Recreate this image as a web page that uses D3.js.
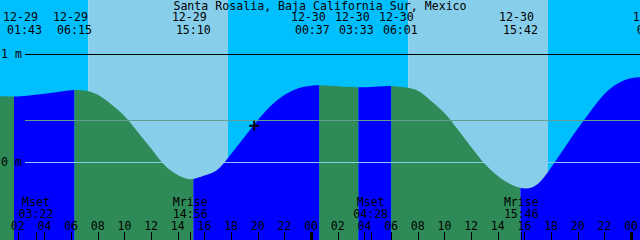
<!DOCTYPE html>
<html>
<head>
<meta charset="utf-8">
<script src="https://cdn.jsdelivr.net/npm/d3@7"></script>
<style>
  body { margin: 0; background: #fff; }
  svg { display: block; }
  text { font-family: "DejaVu Sans Mono", monospace; font-size: 11.6px; fill: #000; }
</style>
</head>
<body>
<svg id="chart" width="640" height="240"></svg>
<script>
const title = 'Santa Rosalia, Baja California Sur, Mexico';
const viewStart = '12-29 00:40';
const viewEnd = '12-31 00:40';

// tide height (m) at each full hour, starting 12-29 00:00
const hourlyHeights = [
  0.613, 0.608, 0.606, 0.617, 0.631, 0.648, 0.665, 0.662, 0.622, 0.534,
  0.426, 0.278, 0.125, -0.028, -0.120, -0.159, -0.125, -0.069, 0.074, 0.231,
  0.387, 0.523, 0.620, 0.681, 0.706, 0.709, 0.702, 0.694, 0.693, 0.699,
  0.704, 0.692, 0.659, 0.565, 0.454, 0.301, 0.139, -0.014, -0.130, -0.208,
  -0.245, -0.204, -0.051, 0.130, 0.310, 0.477, 0.630, 0.727, 0.775, 0.787,
];

const tideTimes = ['12-29 01:43', '12-29 06:15', '12-29 15:10', '12-30 00:37',
  '12-30 03:33', '12-30 06:01', '12-30 15:42', '12-31 01:44'];
const tideTypes = ['low', 'high', 'low', 'high', 'low', 'high', 'low', 'high'];

const sunTimes = ['12-29 07:17', '12-29 17:46', '12-30 07:17', '12-30 17:46'];
const sunTypes = ['rise', 'set', 'rise', 'set'];

const moonTimes = ['12-29 03:22', '12-29 14:56', '12-30 04:28', '12-30 15:46'];
const moonLabels = ['Mset', 'Mrise', 'Mset', 'Mrise'];

const levelValues = [1, 0];
const levelLabels = ['1 m', '0 m'];
const meanLevel = 0.39;

const nowTime = '12-29 19:44';
const nowHeight = 0.336;

const colors = {
  day: '#87ceeb',
  night: '#00bfff',
  flood: '#0000ff',
  ebb: '#2e8b57',
  datum: '#87ceeb',
  msl: '#5f9f8f',
};

const W = 640;
const H = 240;

// hours since 12-29 00:00
function hours(s) {
  const [md, hm] = s.split(' ');
  const day = +md.split('-')[1];
  const [h, m] = hm.split(':').map(Number);
  return (day - 29) * 24 + h + m / 60;
}

const t0 = hours(viewStart);
const t1 = hours(viewEnd);
const x = d3.scaleLinear().domain([t0, t1]).range([0, W]);
const y = d3.scaleLinear().domain([0, 1]).range([162, 54]);

const svg = d3.select('#chart');

// intervals between boundary times, clipped to the view
function intervals(times) {
  const b = [t0, ...times.map(hours).filter((t) => t > t0 && t < t1), t1];
  return d3.pairs(b);
}

// sky: day / night
const sunT = sunTimes.map(hours);
const sky = intervals(sunTimes).map(([a, b]) => {
  const next = sunT.findIndex((t) => t >= b - 1e-9);
  const isDay = next >= 0 ? sunTypes[next] === 'set' : sunTypes[sunTypes.length - 1] === 'rise';
  return { a, b, fill: isDay ? colors.day : colors.night };
});
svg.append('g')
  .selectAll('rect')
  .data(sky)
  .join('rect')
  .attr('x', (d) => x(d.a))
  .attr('y', 0)
  .attr('width', (d) => x(d.b) - x(d.a))
  .attr('height', H)
  .attr('fill', (d) => d.fill);

// water under the curve, flood / ebb
const series = hourlyHeights.map((v, i) => ({ t: i, v }));
const area = d3.area()
  .x((d) => x(d.t))
  .y0(H)
  .y1((d) => y(d.v))
  .curve(d3.curveNatural);

svg.append('clipPath')
  .attr('id', 'water')
  .append('path')
  .attr('d', area(series));

const tideT = tideTimes.map(hours);
const water = intervals(tideTimes).map(([a, b]) => {
  const next = tideT.findIndex((t) => t >= b - 1e-9);
  return { a, b, fill: tideTypes[next] === 'low' ? colors.ebb : colors.flood };
});
svg.append('g')
  .attr('clip-path', 'url(#water)')
  .selectAll('rect')
  .data(water)
  .join('rect')
  .attr('x', (d) => x(d.a))
  .attr('y', 0)
  .attr('width', (d) => x(d.b) - x(d.a))
  .attr('height', H)
  .attr('fill', (d) => d.fill);

// level lines
const lines = [
  { v: 1, stroke: '#000' },
  { v: meanLevel, stroke: colors.msl },
  { v: 0, stroke: colors.datum },
];
svg.append('g')
  .selectAll('line')
  .data(lines)
  .join('line')
  .attr('x1', 25)
  .attr('x2', W)
  .attr('y1', (d) => Math.round(y(d.v)) + 0.5)
  .attr('y2', (d) => Math.round(y(d.v)) + 0.5)
  .attr('stroke', (d) => d.stroke)
  .attr('stroke-width', 1);

svg.append('g')
  .selectAll('text')
  .data(levelValues)
  .join('text')
  .attr('x', 1)
  .attr('y', (d) => y(d) + 4)
  .text((d, i) => levelLabels[i]);

// title
svg.append('text')
  .attr('x', W / 2)
  .attr('y', 10)
  .attr('text-anchor', 'middle')
  .text(title);

// tide event labels, pushed apart where they crowd
function spread(xs, gap) {
  let groups = xs.map((v, i) => ({ idx: [i], mean: v }));
  const pos = (g) => g.idx.map((_, k) => g.mean + (k - (g.idx.length - 1) / 2) * gap);
  let merged = true;
  while (merged) {
    merged = false;
    for (let i = 0; i < groups.length - 1; i += 1) {
      if (d3.max(pos(groups[i])) + gap > d3.min(pos(groups[i + 1]))) {
        const idx = groups[i].idx.concat(groups[i + 1].idx);
        groups.splice(i, 2, { idx, mean: d3.mean(idx, (j) => xs[j]) });
        merged = true;
        break;
      }
    }
  }
  const out = [];
  groups.forEach((g) => pos(g).forEach((p, k) => { out[g.idx[k]] = p; }));
  return out;
}

const labelX = spread(tideT.map(x), 44).map((p) => Math.max(p, 24.5));
const gTop = svg.append('g');
gTop.selectAll('text.date')
  .data(tideTimes)
  .join('text')
  .attr('class', 'date')
  .attr('x', (d, i) => labelX[i] - 4)
  .attr('y', 21)
  .attr('text-anchor', 'middle')
  .text((d) => d.split(' ')[0]);
gTop.selectAll('text.time')
  .data(tideTimes)
  .join('text')
  .attr('class', 'time')
  .attr('x', (d, i) => labelX[i])
  .attr('y', 34)
  .attr('text-anchor', 'middle')
  .text((d) => d.split(' ')[1]);

// hour ticks along the bottom
const tickHours = d3.range(Math.ceil(t0 / 2) * 2, t1, 2);
const gBottom = svg.append('g');
gBottom.selectAll('rect.hour')
  .data(tickHours)
  .join('rect')
  .attr('class', 'hour')
  .attr('x', (d) => Math.round(x(d)) - (d % 24 === 0 ? 1 : 0))
  .attr('y', 232)
  .attr('width', (d) => (d % 24 === 0 ? 3 : 1))
  .attr('height', 8)
  .attr('fill', '#000');
gBottom.selectAll('text.hour')
  .data(tickHours)
  .join('text')
  .attr('class', 'hour')
  .attr('x', (d) => x(d))
  .attr('y', 229.5)
  .attr('text-anchor', 'middle')
  .text((d) => d3.format('02')(d % 24));

// moon rise / set
gBottom.selectAll('rect.moon')
  .data(moonTimes)
  .join('rect')
  .attr('class', 'moon')
  .attr('x', (d) => Math.round(x(hours(d))))
  .attr('y', 232)
  .attr('width', 1)
  .attr('height', 8)
  .attr('fill', '#000');
gBottom.selectAll('text.moon')
  .data(moonTimes)
  .join('text')
  .attr('class', 'moon')
  .attr('x', (d) => x(hours(d)))
  .attr('y', 206)
  .attr('text-anchor', 'middle')
  .text((d, i) => moonLabels[i]);
gBottom.selectAll('text.moontime')
  .data(moonTimes)
  .join('text')
  .attr('class', 'moontime')
  .attr('x', (d) => x(hours(d)))
  .attr('y', 218)
  .attr('text-anchor', 'middle')
  .text((d) => d.split(' ')[1]);

// current time marker
const nx = x(hours(nowTime));
const ny = y(nowHeight);
svg.append('path')
  .attr('d', `M${nx - 5},${ny}H${nx + 5}M${nx},${ny - 5}V${ny + 5}`)
  .attr('stroke', '#000')
  .attr('stroke-width', 2);
</script>
</body>
</html>
